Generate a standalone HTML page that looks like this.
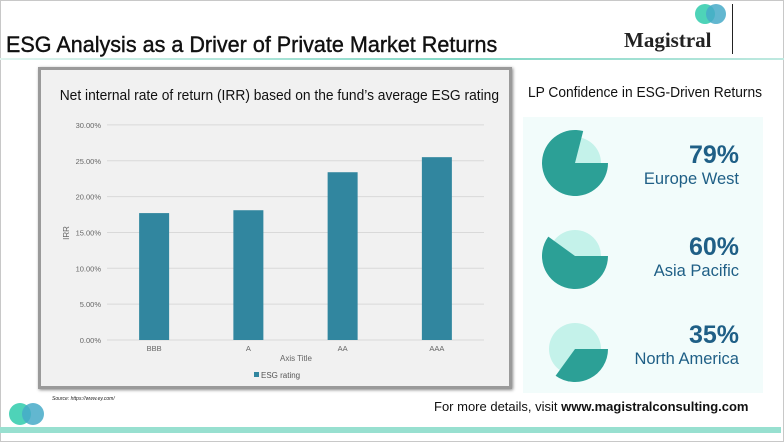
<!DOCTYPE html>
<html><head><meta charset="utf-8"><style>
body{margin:0;width:784px;height:442px;overflow:hidden;background:#fff;font-family:"Liberation Sans",sans-serif;position:relative}
.a{position:absolute}
</style></head><body>
<div class="a" style="left:0;top:0;width:782px;height:440px;border:1px solid #c8c8c8;border-right:3px solid #c8c8c8"></div>
<div class="a" style="left:6px;top:32px;font-size:22px;color:#111;-webkit-text-stroke:0.4px #111;transform:scaleX(0.98);transform-origin:left">ESG Analysis as a Driver of Private Market Returns</div>
<div class="a" style="left:0;top:58px;width:784px;height:2px;background:linear-gradient(90deg,#e0f4ef,#7fd6c4 60%,#bfe9e0)"></div>
<div class="a" style="left:622px;top:4px;width:115px;height:50px">
<div class="a" style="left:73px;top:0;width:20px;height:20px;border-radius:50%;background:#4ed3b8"></div>
<div class="a" style="left:84px;top:0;width:20px;height:20px;border-radius:50%;background:rgba(70,170,200,0.85)"></div>
<div class="a" style="left:2px;top:24px;font-family:'Liberation Serif',serif;font-weight:bold;font-size:21px;color:#222">Magistral</div>
<div class="a" style="left:110px;top:0;width:1px;height:50px;background:#222"></div>
</div>
<div class="a" style="left:38px;top:67px;width:468px;height:316px;background:#f1f1f1;border:3px solid #9a9a9a;box-shadow:1px 1px 3px #888"></div>
<div class="a" style="left:41px;top:87px;width:468px;text-align:center;font-size:15px;color:#111;white-space:nowrap;transform:scaleX(0.92);transform-origin:center">Net internal rate of return (IRR) based on the fund’s average ESG rating</div>
<svg class="a" style="left:0;top:0" width="784" height="442">
<g id="g"></g>
<text x="296" y="361" font-size="8" fill="#666" text-anchor="middle">Axis Title</text>
<text x="69" y="233" font-size="8" fill="#666" text-anchor="middle" transform="rotate(-90 69 233)">IRR</text>
<rect x="254" y="372" width="5" height="5" fill="#31869f"/>
<text x="261" y="378" font-size="8" fill="#555">ESG rating</text>
</svg>
<div class="a" style="left:52px;top:396px;font-size:5px;font-style:italic;color:#222">Source: https://www.ey.com/</div>
<div class="a" style="left:9px;top:403px;width:45px;height:24px">
<div class="a" style="left:0;top:0;width:22px;height:22px;border-radius:50%;background:#4ed3b8"></div>
<div class="a" style="left:13px;top:0;width:22px;height:22px;border-radius:50%;background:rgba(70,170,200,0.85)"></div>
</div>
<div class="a" style="left:0;top:427px;width:781px;height:6px;background:#98e0d0"></div>
<div class="a" style="left:434px;top:399px;font-size:13px;color:#111">For more details, visit <b>www.magistralconsulting.com</b></div>
<div class="a" style="left:520px;top:85px;width:250px;text-align:center;font-size:14.5px;color:#111;white-space:nowrap;transform:scaleX(0.95);transform-origin:center">LP Confidence in ESG-Driven Returns</div>
<div class="a" style="left:523px;top:117px;width:240px;height:276px;background:#f2fcfb"></div>
<svg class="a" style="left:0;top:0" width="784" height="442" id="pies"></svg>
<div class="a" style="left:560px;top:141px;width:179px;text-align:right;color:#1f5f86">
<div style="font-size:25px;font-weight:bold;height:29px">79%</div>
<div style="font-size:16.5px;height:63px">Europe West</div>
<div style="font-size:25px;font-weight:bold;height:29px">60%</div>
<div style="font-size:16.5px;height:59px">Asia Pacific</div>
<div style="font-size:25px;font-weight:bold;height:29px">35%</div>
<div style="font-size:16.5px">North America</div>
</div>
<script>
const categories=["BBB","A","AA","AAA"];
const irrValues=[17.7,18.1,23.4,25.5];
const yTicks=[0,5,10,15,20,25,30];
const lpRegions=["Europe West","Asia Pacific","North America"];
const lpValues=[79,60,35];
const NS="http://www.w3.org/2000/svg";
const g=document.getElementById('g');
const y0=340,pxPer=7.17,xL=107,xR=484;
const y=v=>y0-v*pxPer;
const bw=(xR-xL)/categories.length;
const x=i=>xL+bw*(i+0.5);
function mk(t,a){const e=document.createElementNS(NS,t);for(const k in a)e.setAttribute(k,a[k]);return e;}
yTicks.forEach(t=>{
 const l=mk('line',{x1:xL,x2:xR,y1:y(t),y2:y(t),stroke:'#d9d9d9','stroke-width':1});
 
 
 g.appendChild(l);
 const tx=mk('text',{x:101,y:y(t)+3,'font-size':7.5,fill:'#666','text-anchor':'end'});
 tx.textContent=t.toFixed(2)+'%';
 
 
 g.appendChild(tx);
});
categories.forEach((c,i)=>{
 const r=mk('rect',{x:x(i)-15,y:y(irrValues[i]),width:30,height:irrValues[i]*pxPer,fill:'#31869f'});
 
 
 g.appendChild(r);
 const tx=mk('text',{x:x(i),y:351,'font-size':7.5,fill:'#666','text-anchor':'middle'});
 tx.textContent=c;
 
 
 g.appendChild(tx);
});
const pies=document.getElementById('pies');
lpValues.forEach((v,i)=>{
 const cx=575,cy=163+i*93,R=33,r=26;
 const c=mk('circle',{cx:cx,cy:cy,r:r,fill:'#c4f2ea'});
 
 
 pies.appendChild(c);
 const a=v/100*2*Math.PI;
 const ex=cx+R*Math.cos(a),ey=cy+R*Math.sin(a);
 const p=mk('path',{d:`M${cx},${cy} L${cx+R},${cy} A${R},${R} 0 ${a>Math.PI?1:0} 1 ${ex},${ey} Z`,fill:'#2ca096'});
 
 
 pies.appendChild(p);
});
</script>
</body></html>
